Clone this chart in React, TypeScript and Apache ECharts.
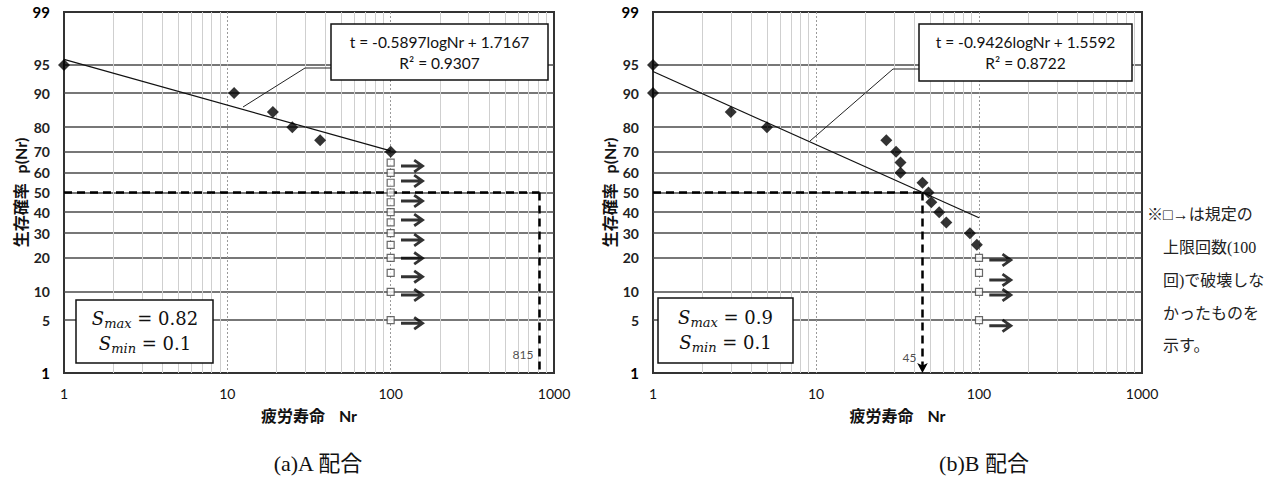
import React, { useEffect, useRef } from "react";
import * as echarts from "echarts";

// Probability-scale ticks (%) and fatigue-life axis ticks
const probTicks = [1, 5, 10, 20, 30, 40, 50, 60, 70, 80, 90, 95, 99];
const lifeDecades = [1, 10, 100, 1000];
const lifeMinor = [2, 3, 4, 5, 6, 7, 8, 9, 20, 30, 40, 50, 60, 70, 80, 90, 200, 300, 400, 500, 600, 700, 800, 900];

// (a) A mix
const aFailN = [1, 11, 19, 25, 37, 100];
const aFailP = [95, 90, 85, 80, 75, 70];
const aRunN = [100, 100, 100, 100, 100, 100, 100, 100, 100, 100, 100, 100, 100];
const aRunP = [65, 60, 55, 50, 45, 40, 35, 30, 25, 20, 15, 10, 5];
const aArrowP = [63.4, 55.9, 45.6, 36.2, 27.0, 19.8, 13.9, 9.3, 4.6];
const aSlope = -0.5897;
const aIntercept = 1.7167;
const aR2 = 0.9307;
const aMedianLife = 815;
const aSmax = 0.82;
const aSmin = 0.1;

// (b) B mix
const bFailN = [1, 1, 3, 5, 27, 31, 33, 33, 45, 49, 51, 57, 63, 88, 97];
const bFailP = [95, 90, 85, 80, 75, 70, 65, 60, 55, 50, 45, 40, 35, 30, 25];
const bRunN = [100, 100, 100, 100];
const bRunP = [20, 15, 10, 5];
const bArrowP = [19.2, 13, 9.3, 4.3];
const bSlope = -0.9426;
const bIntercept = 1.5592;
const bR2 = 0.8722;
const bMedianLife = 45;
const bSmax = 0.9;
const bSmin = 0.1;

// run-out arrows sit just right of the 100-cycle limit
const arrowN = 137;
const fitRange = [1, 100];

const FONT = 'Lato, "Noto Sans CJK JP", sans-serif';
const SERIF = '"Liberation Serif", "Noto Sans CJK JP", serif';
const MATH = '"DejaVu Serif", serif';
const ARROW =
  "path://M0 5.5L17 5.5L12.4 2.3L14 0L24 7L14 14L12.4 11.7L17 8.5L0 8.5Z";

// inverse standard normal CDF (Acklam)
function probit(p: number): number {
  const a = [-39.69683028665376, 220.9460984245205, -275.9285104469687, 138.357751867269, -30.66479806614716, 2.506628277459239];
  const b = [-54.47609879822406, 161.5858368580409, -155.6989798598866, 66.80131188771972, -13.28068155833372];
  const c = [-0.007784894002430293, -0.3223964580411365, -2.400758277161838, -2.549732539343734, 4.374664141464968, 2.938163982698783];
  const d = [0.007784695709041462, 0.3224671290700398, 2.445134137142996, 3.754408661907416];
  const pl = 0.02425;
  if (p < pl) {
    const q = Math.sqrt(-2 * Math.log(p));
    return (((((c[0] * q + c[1]) * q + c[2]) * q + c[3]) * q + c[4]) * q + c[5]) /
      ((((d[0] * q + d[1]) * q + d[2]) * q + d[3]) * q + 1);
  }
  if (p > 1 - pl) {
    const q = Math.sqrt(-2 * Math.log(1 - p));
    return -(((((c[0] * q + c[1]) * q + c[2]) * q + c[3]) * q + c[4]) * q + c[5]) /
      ((((d[0] * q + d[1]) * q + d[2]) * q + d[3]) * q + 1);
  }
  const q = p - 0.5;
  const r = q * q;
  return ((((((a[0] * r + a[1]) * r + a[2]) * r + a[3]) * r + a[4]) * r + a[5]) * q) /
    (((((b[0] * r + b[1]) * r + b[2]) * r + b[3]) * r + b[4]) * r + 1);
}

const zOf = (pct: number) => probit(pct / 100);
const lg = (n: number) => Math.log10(n);
const zMin = zOf(probTicks[0]);
const zMax = zOf(probTicks[probTicks.length - 1]);
const yTickZ = probTicks.map(zOf);
const yInnerZ = probTicks.slice(1, -1).map(zOf);

type Panel = {
  failN: number[];
  failP: number[];
  runN: number[];
  runP: number[];
  arrowP: number[];
  slope: number;
  intercept: number;
  medianLife: number;
  medianArrow: boolean;
  labelOffset: number;
};

const panels: Panel[] = [
  { failN: aFailN, failP: aFailP, runN: aRunN, runP: aRunP, arrowP: aArrowP, slope: aSlope, intercept: aIntercept, medianLife: aMedianLife, medianArrow: false, labelOffset: -19 },
  { failN: bFailN, failP: bFailP, runN: bRunN, runP: bRunP, arrowP: bArrowP, slope: bSlope, intercept: bIntercept, medianLife: bMedianLife, medianArrow: true, labelOffset: -16 },
];

const grids = [
  { left: 64, top: 12, width: 490, height: 361 },
  { left: 653, top: 12, width: 489, height: 361 },
];

function buildOption() {
  const xAxis: any[] = [];
  const yAxis: any[] = [];
  const series: any[] = [];

  panels.forEach((pn, i) => {
    const major = i * 2;
    xAxis.push({
      type: "value",
      gridIndex: i,
      min: lg(lifeDecades[0]),
      max: lg(lifeDecades[lifeDecades.length - 1]),
      axisLine: { show: false },
      axisTick: { show: false, customValues: lifeDecades.slice(1, -1).map(lg) },
      axisLabel: {
        customValues: lifeDecades.map(lg),
        formatter: (v: number) => String(Math.round(Math.pow(10, v))),
        margin: 13,
        fontSize: 14,
        color: "#111",
        fontFamily: FONT,
      },
      splitLine: { show: true, lineStyle: { color: "#9a9a9a", width: 1, type: [2, 2] } },
      name: "{a|疲労寿命}{b|Nr}",
      nameLocation: "middle",
      nameGap: 34,
      nameTextStyle: {
        rich: {
          a: { fontFamily: FONT, fontSize: 16, fontWeight: "bold", color: "#111" },
          b: { fontFamily: FONT, fontSize: 16, fontWeight: "bold", color: "#111", padding: [0, 0, 0, 14] },
        },
      },
    });
    xAxis.push({
      type: "value",
      gridIndex: i,
      min: lg(lifeDecades[0]),
      max: lg(lifeDecades[lifeDecades.length - 1]),
      axisLine: { show: false },
      axisTick: { show: false, customValues: lifeMinor.map(lg) },
      axisLabel: { show: false },
      splitLine: { show: true, lineStyle: { color: "#cfcfcf", width: 1 } },
    });
    yAxis.push({
      type: "value",
      gridIndex: i,
      min: zMin,
      max: zMax,
      axisLine: { show: false },
      axisTick: { show: false, customValues: yInnerZ },
      axisLabel: {
        customValues: yTickZ,
        formatter: (v: number) => {
          const p = probTicks.find((t) => Math.abs(zOf(t) - v) < 1e-6);
          if (p === undefined) return "";
          return p === 1 || p === 99 ? `{e|${p}}` : `${p}`;
        },
        margin: 14,
        fontSize: 14,
        fontWeight: "bold",
        color: "#222",
        fontFamily: FONT,
        rich: { e: { fontSize: 15, fontWeight: "bold", color: "#000", fontFamily: FONT } },
      },
      splitLine: { show: true, lineStyle: { color: "#4a4a4a", width: 1.5 } },
      name: "{a|生存確率}{b|p(Nr)}",
      nameLocation: "middle",
      nameGap: 35,
      nameTextStyle: {
        rich: {
          a: { fontFamily: FONT, fontSize: 16, fontWeight: "bold", color: "#111" },
          b: { fontFamily: FONT, fontSize: 16, fontWeight: "bold", color: "#111", padding: [0, 0, 0, 10] },
        },
      },
    });

    const medX = lg(pn.medianLife);
    const z50 = zOf(50);

    // regression line drawn from its stated coefficients
    series.push({
      type: "line",
      xAxisIndex: major,
      yAxisIndex: i,
      data: fitRange.map((n) => [lg(n), pn.slope * lg(n) + pn.intercept]),
      showSymbol: false,
      symbol: "none",
      lineStyle: { color: "#111", width: 1.2 },
      z: 2,
      silent: true,
    });
    // 50% survival: dashed guide to the median life, then down to the axis
    series.push({
      type: "line",
      xAxisIndex: major,
      yAxisIndex: i,
      data: [
        [lg(lifeDecades[0]), z50],
        [medX, z50],
      ],
      showSymbol: false,
      symbol: "none",
      lineStyle: { color: "#000", width: 2.5, type: [8, 5] },
      z: 3,
      silent: true,
      markLine: {
        silent: true,
        symbol: ["none", pn.medianArrow ? "arrow" : "none"],
        symbolSize: [8, 10],
        label: { show: false },
        lineStyle: { color: "#000", width: 2.5, type: [8, 5] },
        data: [[{ coord: [medX, z50] }, { coord: [medX, zMin] }]],
      },
    });
    series.push({
      type: "scatter",
      xAxisIndex: major,
      yAxisIndex: i,
      data: [[medX, zMin]],
      symbol: "circle",
      symbolSize: 0,
      clip: false,
      silent: true,
      label: {
        show: true,
        position: "left",
        distance: 6,
        offset: [0, pn.labelOffset],
        formatter: String(pn.medianLife),
        fontSize: 12,
        color: "#222",
        fontFamily: FONT,
      },
      z: 4,
    });
    // failures
    series.push({
      type: "scatter",
      xAxisIndex: major,
      yAxisIndex: i,
      data: pn.failN.map((n, k) => [lg(n), zOf(pn.failP[k])]),
      symbol: "diamond",
      symbolSize: 12,
      itemStyle: { color: "#000" },
      clip: false,
      z: 5,
    });
    // run-outs at the cycle limit
    series.push({
      type: "scatter",
      xAxisIndex: major,
      yAxisIndex: i,
      data: pn.runN.map((n, k) => [lg(n), zOf(pn.runP[k])]),
      symbol: "rect",
      symbolSize: 7,
      itemStyle: { color: "#fff", borderColor: "#444", borderWidth: 1.2 },
      clip: false,
      z: 6,
    });
    series.push({
      type: "scatter",
      xAxisIndex: major,
      yAxisIndex: i,
      data: pn.arrowP.map((p) => [lg(arrowN), zOf(p)]),
      symbol: ARROW,
      symbolSize: [24, 14],
      itemStyle: { color: "#000" },
      clip: false,
      z: 6,
    });
  });

  const eqText = (s: number, b: number, r2: number) => `t = ${s}logNr + ${b}\nR² = ${r2}`;
  const sText = (mx: number, mn: number) => `{s|S}{sub|max}{n| = ${mx}}\n{s|S}{sub|min}{n| = ${mn}}`;
  const sRich = {
    s: { fontFamily: MATH, fontStyle: "italic", fontSize: 18, color: "#111", lineHeight: 25 },
    sub: { fontFamily: MATH, fontStyle: "italic", fontSize: 13, color: "#111", lineHeight: 25, padding: [9, 0, 0, 0] },
    n: { fontFamily: MATH, fontSize: 18, color: "#111", lineHeight: 25 },
  };

  const graphic: any[] = [
    // regression labels
    { type: "polyline", shape: { points: [[331, 68], [305, 68], [243, 107]] }, style: { stroke: "#222", lineWidth: 1, fill: null }, z: 10 },
    { type: "rect", shape: { x: 331, y: 24, width: 217, height: 56 }, style: { fill: "#fff", stroke: "#111", lineWidth: 1.5 }, z: 10 },
    { type: "text", x: 439.5, y: 52, z: 11, style: { text: eqText(aSlope, aIntercept, aR2), align: "center", verticalAlign: "middle", fontFamily: FONT, fontSize: 15.5, lineHeight: 21, fill: "#111" } },
    { type: "polyline", shape: { points: [[919, 69], [893, 69], [810, 141]] }, style: { stroke: "#222", lineWidth: 1, fill: null }, z: 10 },
    { type: "rect", shape: { x: 919, y: 24, width: 213, height: 57 }, style: { fill: "#fff", stroke: "#111", lineWidth: 1.5 }, z: 10 },
    { type: "text", x: 1025.5, y: 52, z: 11, style: { text: eqText(bSlope, bIntercept, bR2), align: "center", verticalAlign: "middle", fontFamily: FONT, fontSize: 15.5, lineHeight: 21, fill: "#111" } },
    // stress ratio boxes
    { type: "rect", shape: { x: 76, y: 300, width: 137, height: 63 }, style: { fill: "#fff", stroke: "#111", lineWidth: 1.5 }, z: 10 },
    { type: "text", x: 145, y: 331, z: 11, style: { text: sText(aSmax, aSmin), rich: sRich, align: "center", verticalAlign: "middle", fontFamily: MATH, fontSize: 18, fill: "#111" } },
    { type: "rect", shape: { x: 658, y: 298, width: 135, height: 65 }, style: { fill: "#fff", stroke: "#111", lineWidth: 1.5 }, z: 10 },
    { type: "text", x: 725.5, y: 330, z: 11, style: { text: sText(bSmax, bSmin), rich: sRich, align: "center", verticalAlign: "middle", fontFamily: MATH, fontSize: 18, fill: "#111" } },
    // captions
    { type: "text", x: 318, y: 463, style: { text: "(a)A 配合", align: "center", verticalAlign: "middle", fontFamily: SERIF, fontSize: 22, fill: "#111" } },
    { type: "text", x: 984, y: 463, style: { text: "(b)B 配合", align: "center", verticalAlign: "middle", fontFamily: SERIF, fontSize: 22, fill: "#111" } },
    // note
    { type: "text", x: 1147, y: 214, style: { text: "※□→は規定の", verticalAlign: "middle", fontFamily: SERIF, fontSize: 16, fill: "#222" } },
    { type: "text", x: 1163, y: 247, style: { text: "上限回数(100", verticalAlign: "middle", fontFamily: SERIF, fontSize: 16, fill: "#222" } },
    { type: "text", x: 1163, y: 280, style: { text: "回)で破壊しな", verticalAlign: "middle", fontFamily: SERIF, fontSize: 16, fill: "#222" } },
    { type: "text", x: 1163, y: 313, style: { text: "かったものを", verticalAlign: "middle", fontFamily: SERIF, fontSize: 16, fill: "#222" } },
    { type: "text", x: 1163, y: 345, style: { text: "示す。", verticalAlign: "middle", fontFamily: SERIF, fontSize: 16, fill: "#222" } },
  ];

  return {
    animation: false,
    backgroundColor: "#fff",
    grid: grids.map((g) => ({ ...g, show: true, borderColor: "#333", borderWidth: 2, containLabel: false })),
    xAxis,
    yAxis,
    series,
    graphic,
  };
}

export default function App() {
  const ref = useRef<HTMLDivElement>(null);
  useEffect(() => {
    if (!ref.current) return;
    const chart = echarts.init(ref.current, undefined, { renderer: "svg" });
    chart.setOption(buildOption() as any);
    return () => chart.dispose();
  }, []);
  return (
    <div
      ref={ref}
      style={{ position: "absolute", left: 0, top: 0, width: 1284, height: 481, background: "#fff" }}
    />
  );
}
